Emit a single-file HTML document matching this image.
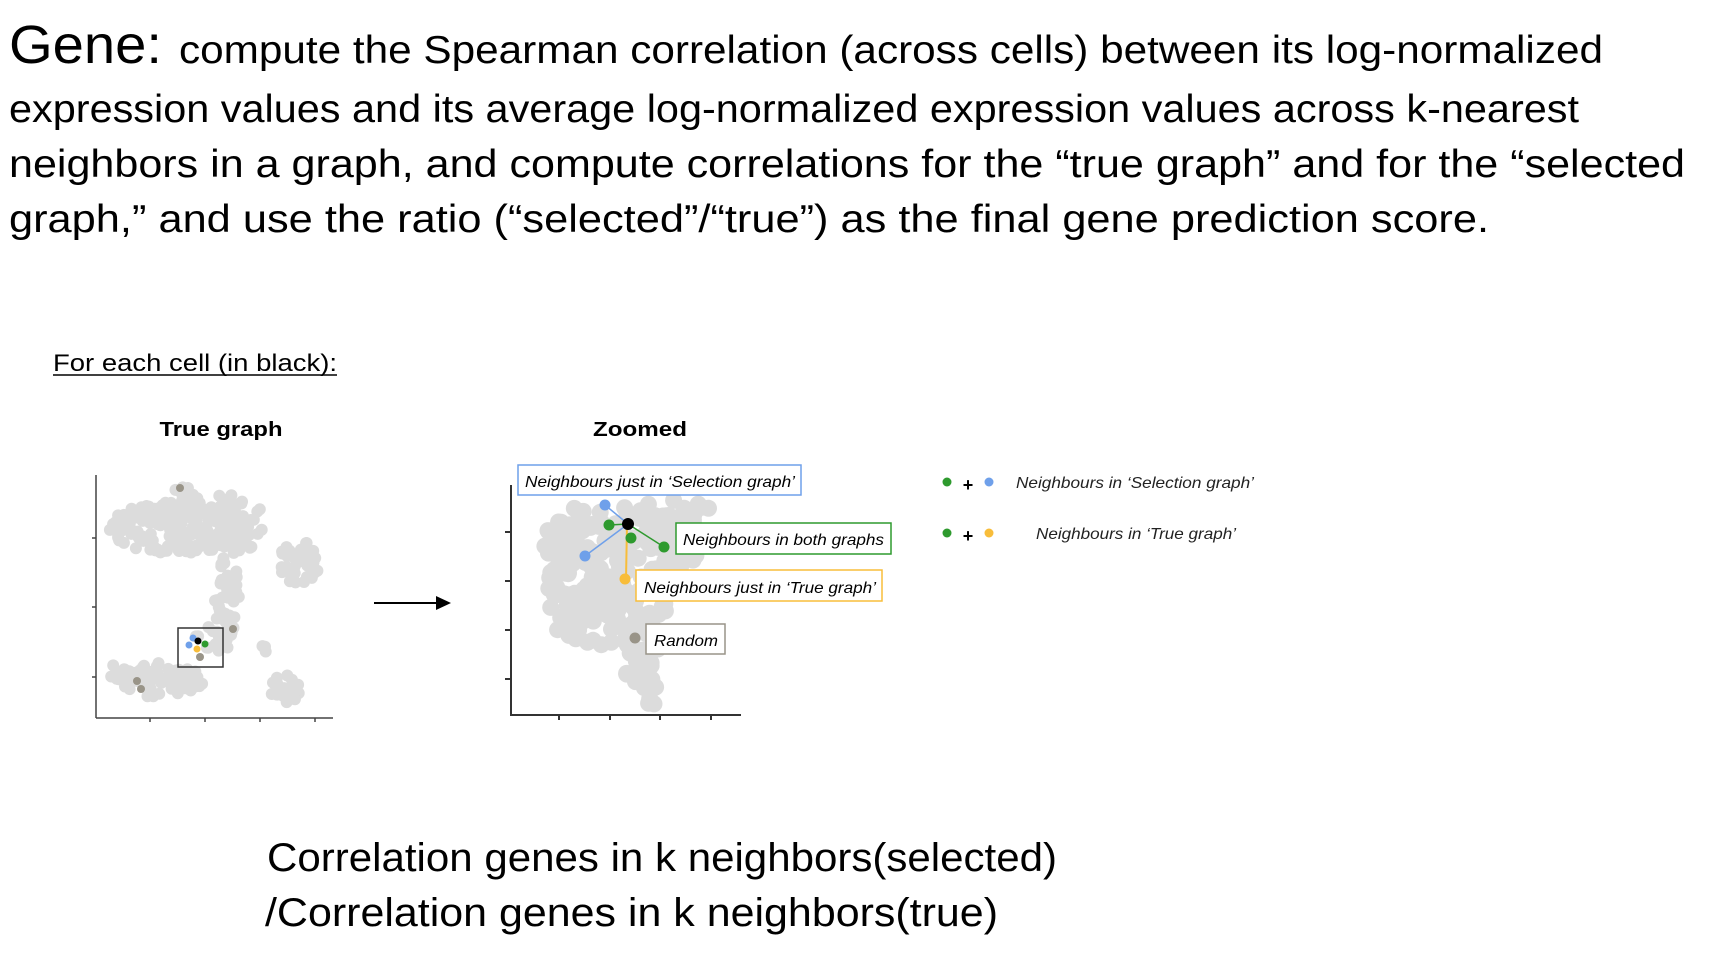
<!DOCTYPE html>
<html><head><meta charset="utf-8"><style>
html,body{margin:0;padding:0;background:#fff;}
svg{display:block;}
text{font-family:"Liberation Sans",sans-serif;}
</style></head><body>
<svg width="1714" height="962" viewBox="0 0 1714 962" xmlns="http://www.w3.org/2000/svg">
<text x="9" y="63" font-size="54" textLength="153" lengthAdjust="spacingAndGlyphs">Gene:</text>
<text x="179" y="63" font-size="39" textLength="1424" lengthAdjust="spacingAndGlyphs">compute the Spearman correlation (across cells) between its log-normalized</text>
<text x="9" y="122" font-size="39" textLength="1570" lengthAdjust="spacingAndGlyphs">expression values and its average log-normalized expression values across k-nearest</text>
<text x="9" y="177" font-size="39" textLength="1676" lengthAdjust="spacingAndGlyphs">neighbors in a graph, and compute correlations for the “true graph” and for the “selected</text>
<text x="9" y="232" font-size="39" textLength="1480" lengthAdjust="spacingAndGlyphs">graph,” and use the ratio (“selected”/“true”) as the final gene prediction score.</text>

<text x="53" y="371" font-size="24" textLength="284" lengthAdjust="spacingAndGlyphs">For each cell (in black):</text>
<line x1="53" y1="375" x2="337" y2="375" stroke="#000" stroke-width="1.5"/>

<text x="221" y="436" font-size="20" font-weight="bold" text-anchor="middle" textLength="123" lengthAdjust="spacingAndGlyphs">True graph</text>
<text x="640" y="436" font-size="20" font-weight="bold" text-anchor="middle" textLength="94" lengthAdjust="spacingAndGlyphs">Zoomed</text>

<g id="leftblob" fill="#dcdcdc"></g>
<g id="rightblob" fill="#dcdcdc"></g>

<g stroke="#444" stroke-width="1.5" fill="none">
<line x1="96" y1="475" x2="96" y2="718"/>
<line x1="96" y1="718" x2="333" y2="718"/>
<line x1="92" y1="538" x2="96" y2="538"/><line x1="92" y1="607" x2="96" y2="607"/><line x1="92" y1="677" x2="96" y2="677"/>
<line x1="150" y1="718" x2="150" y2="722"/><line x1="205" y1="718" x2="205" y2="722"/><line x1="260" y1="718" x2="260" y2="722"/><line x1="315" y1="718" x2="315" y2="722"/>
</g>
<g fill="#999488">
<circle cx="180" cy="488" r="4"/><circle cx="233" cy="629" r="4"/><circle cx="137" cy="681" r="4"/><circle cx="141" cy="689" r="4"/><circle cx="200" cy="657" r="4"/>
</g>
<circle cx="193" cy="638" r="3.5" fill="#6fa0ea"/>
<circle cx="189" cy="645" r="3.5" fill="#6fa0ea"/>
<circle cx="205" cy="644" r="3.5" fill="#2e9a2e"/>
<circle cx="197" cy="649" r="3.5" fill="#f8bd3a"/>
<circle cx="198" cy="641" r="3.5" fill="#000"/>
<rect x="178" y="628" width="45" height="39" fill="none" stroke="#333" stroke-width="1.5"/>

<line x1="374" y1="603" x2="438" y2="603" stroke="#000" stroke-width="2"/>
<polygon points="436,596 451,603 436,610" fill="#000"/>

<g stroke="#333" stroke-width="2" fill="none">
<line x1="511" y1="485" x2="511" y2="716"/>
<line x1="511" y1="715" x2="741" y2="715"/>
<line x1="505" y1="532" x2="511" y2="532"/><line x1="505" y1="581" x2="511" y2="581"/><line x1="505" y1="630" x2="511" y2="630"/><line x1="505" y1="679" x2="511" y2="679"/>
<line x1="559" y1="715" x2="559" y2="720"/><line x1="610" y1="715" x2="610" y2="720"/><line x1="660" y1="715" x2="660" y2="720"/><line x1="711" y1="715" x2="711" y2="720"/>
</g>
<line x1="628" y1="524" x2="605" y2="505" stroke="#6fa0ea" stroke-width="1.5"/>
<line x1="628" y1="524" x2="585" y2="556" stroke="#6fa0ea" stroke-width="1.5"/>
<line x1="628" y1="524" x2="609" y2="525" stroke="#2e9a2e" stroke-width="1.5"/>
<line x1="628" y1="524" x2="664" y2="547" stroke="#2e9a2e" stroke-width="1.5"/>
<line x1="627" y1="524" x2="626" y2="579" stroke="#f8bd3a" stroke-width="2"/>
<circle cx="605" cy="505" r="5.5" fill="#6fa0ea"/>
<circle cx="585" cy="556" r="5.5" fill="#6fa0ea"/>
<circle cx="609" cy="525" r="5.5" fill="#2e9a2e"/>
<circle cx="631" cy="538" r="5.5" fill="#2e9a2e"/>
<circle cx="664" cy="547" r="5.5" fill="#2e9a2e"/>
<circle cx="625" cy="579" r="5.5" fill="#f8bd3a"/>
<circle cx="635" cy="638" r="5.5" fill="#999488"/>
<circle cx="628" cy="524" r="6" fill="#000"/>

<rect x="518" y="465" width="283" height="30" fill="#fff" stroke="#6fa0ea" stroke-width="1.5"/>
<text x="525" y="487" font-size="16" font-style="italic" textLength="270" lengthAdjust="spacingAndGlyphs">Neighbours just in ‘Selection graph’</text>
<rect x="676" y="523" width="215" height="31" fill="#fff" stroke="#2e9a2e" stroke-width="1.5"/>
<text x="683" y="545" font-size="16" font-style="italic" textLength="201" lengthAdjust="spacingAndGlyphs">Neighbours in both graphs</text>
<rect x="636" y="570" width="246" height="31" fill="#fff" stroke="#f8bd3a" stroke-width="1.5"/>
<text x="644" y="593" font-size="16" font-style="italic" textLength="232" lengthAdjust="spacingAndGlyphs">Neighbours just in ‘True graph’</text>
<rect x="646" y="624" width="79" height="30" fill="#fff" stroke="#999488" stroke-width="1.5"/>
<text x="654" y="646" font-size="16" font-style="italic" textLength="64" lengthAdjust="spacingAndGlyphs">Random</text>

<circle cx="947" cy="482" r="4.5" fill="#2e9a2e"/>
<text x="968" y="491" font-size="18" font-weight="bold" text-anchor="middle">+</text>
<circle cx="989" cy="482" r="4.5" fill="#6fa0ea"/>
<text x="1016" y="488" font-size="16" font-style="italic" fill="#222" textLength="238" lengthAdjust="spacingAndGlyphs">Neighbours in ‘Selection graph’</text>
<circle cx="947" cy="533" r="4.5" fill="#2e9a2e"/>
<text x="968" y="542" font-size="18" font-weight="bold" text-anchor="middle">+</text>
<circle cx="989" cy="533" r="4.5" fill="#f8bd3a"/>
<text x="1036" y="539" font-size="16" font-style="italic" fill="#222" textLength="200" lengthAdjust="spacingAndGlyphs">Neighbours in ‘True graph’</text>

<text x="267" y="871" font-size="40" textLength="790" lengthAdjust="spacingAndGlyphs">Correlation genes in k neighbors(selected)</text>
<text x="265" y="926" font-size="40" textLength="733" lengthAdjust="spacingAndGlyphs">/Correlation genes in k neighbors(true)</text>
</svg>
<script>
(function(){
var s=12345;function r(){s=(s*1103515245+12345)%2147483648;return s/2147483648;}
function fill(id,regions,rad){
 var g=document.getElementById(id),h='';
 regions.forEach(function(e){
  var n=e[4];
  for(var i=0;i<n;i++){var a=r()*6.283,d=Math.sqrt(r());
   var x=e[0]+Math.cos(a)*d*e[2],y=e[1]+Math.sin(a)*d*e[3];
   h+='<circle cx="'+x.toFixed(1)+'" cy="'+y.toFixed(1)+'" r="'+rad+'"/>';}
 });
 g.innerHTML=h;
}
fill('leftblob',[
 [180,528,72,26,160],[185,500,14,14,15],[230,525,35,32,60],[300,562,22,22,40],
 [227,600,12,45,45],[215,640,20,15,18],[160,680,45,18,70],[120,672,15,8,10],[285,690,16,15,22],[265,650,6,6,3]
],6);
fill('rightblob',[
 [585,560,45,55,110],[655,540,45,45,80],[610,615,65,30,80],[640,650,20,35,30],[650,690,10,18,10],[690,510,20,15,12]
],8.5);
})();
</script>
</body></html>
